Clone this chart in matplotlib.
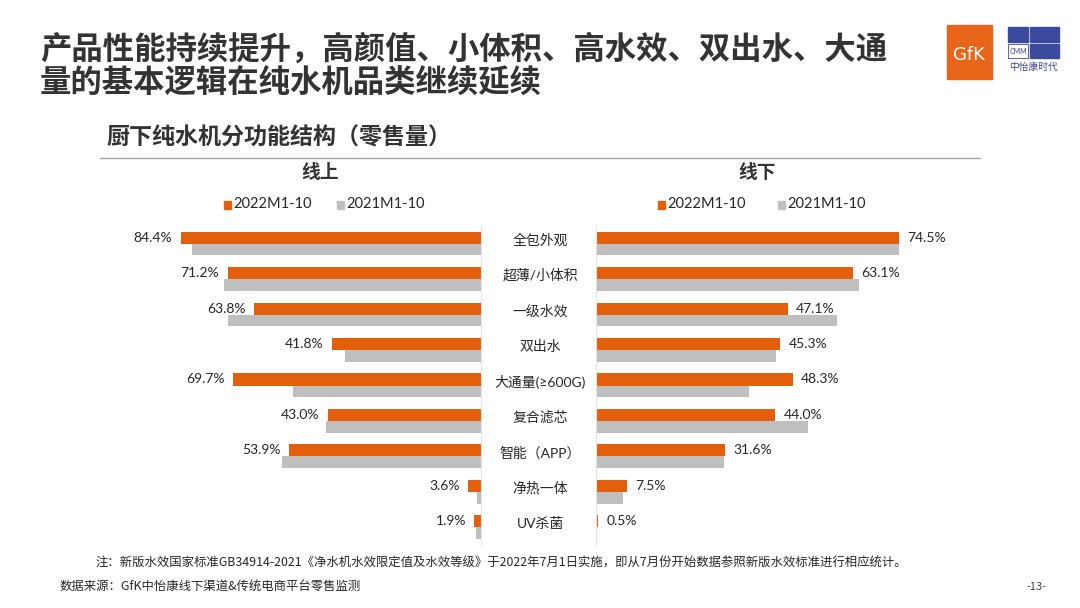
import matplotlib
matplotlib.use("Agg")
import matplotlib.pyplot as plt
from matplotlib.transforms import blended_transform_factory
from matplotlib.patches import Rectangle
from matplotlib.lines import Line2D

plt.rcParams['font.family'] = ['Lato', 'Noto Sans CJK SC', 'DejaVu Sans']

# data (percent of retail volume)
categories = ['全包外观', '超薄/小体积', '一级水效', '双出水', '大通量(≥600G)',
              '复合滤芯', '智能（APP）', '净热一体', 'UV杀菌']
online_2022 = [84.4, 71.2, 63.8, 41.8, 69.7, 43.0, 53.9, 3.6, 1.9]
online_2021 = [81.2, 72.2, 71.1, 38.2, 52.9, 43.6, 55.9, 1.1, 1.4]
offline_2022 = [74.5, 63.1, 47.1, 45.3, 48.3, 44.0, 31.6, 7.5, 0.5]
offline_2021 = [74.5, 64.5, 59.1, 44.2, 37.7, 52.0, 31.4, 6.7, 0.3]
series_names = ['2022M1-10', '2021M1-10']

orange = '#E35F0C'
grey = '#BFBFBF'
dark = '#333333'
blue = '#3B4A9C'
cjk = ['Noto Sans CJK SC', 'DejaVu Sans']

W, H = 1080, 608
fig = plt.figure(figsize=(10.8, 6.08), dpi=100)


def px(x0, y0, x1, y1):
    # pixel box (top-left origin) -> figure fraction rect
    return [x0 / W, 1 - y1 / H, (x1 - x0) / W, (y1 - y0) / H]


def box(x0, y0, x1, y1, **kw):
    fig.patches.append(Rectangle((x0 / W, 1 - y1 / H), (x1 - x0) / W, (y1 - y0) / H,
                                 transform=fig.transFigure, **kw))


ax_l = fig.add_axes(px(125, 226, 481, 545))
ax_r = fig.add_axes(px(596, 226, 1003, 545))

ypos = list(range(len(categories)))
bh = 0.34

for ax, v22, v21, side in [(ax_l, online_2022, online_2021, 'left'),
                           (ax_r, offline_2022, offline_2021, 'right')]:
    ax.barh([y - bh for y in ypos], v22, height=bh, align='edge', color=orange)
    ax.barh(ypos, v21, height=bh - 0.01, align='edge', color=grey)
    ax.set_ylim(8.5, -0.5)
    if side == 'left':
        ax.set_xlim(100, 0)
    else:
        ax.set_xlim(0, 100)
    for s in ax.spines.values():
        s.set_visible(False)
    zero_spine = 'right' if side == 'left' else 'left'
    ax.spines[zero_spine].set_visible(True)
    ax.spines[zero_spine].set_color('#E3E3E3')
    ax.spines[zero_spine].set_linewidth(0.8)
    ax.set_xticks([])
    ax.set_yticks([])
    ax.patch.set_alpha(0)
    for y, v in zip(ypos, v22):
        off = -6 if side == 'left' else 6
        ax.annotate(f'{v:.1f}%', (v, y - bh / 2), xytext=(off, 0),
                    textcoords='offset points', va='center',
                    ha='right' if side == 'left' else 'left',
                    fontsize=10, color='#262626')

# category names in the gap between the two panels
tr = blended_transform_factory(fig.transFigure, ax_l.transData)
for y, c in zip(ypos, categories):
    ax_l.text(540 / W, y - 0.11, c, transform=tr, ha='center', va='center',
              fontsize=10, color='#262626', clip_on=False)

# panel headers and legends
fig.text(320 / W, 1 - 173 / H, '线上', ha='center', va='center', fontsize=13.5,
         weight='bold', color=dark, family=cjk)
fig.text(757 / W, 1 - 173 / H, '线下', ha='center', va='center', fontsize=13.5,
         weight='bold', color=dark, family=cjk)

for lx in [(224, 337), (658, 778)]:
    for x0, name, col in zip(lx, series_names, [orange, grey]):
        box(x0, 201, x0 + 7, 209, color=col)
        fig.text((x0 + 9) / W, 1 - 204 / H, name, va='center', fontsize=10.5,
                 color='#262626')

# titles
fig.text(40 / W, 1 - 50 / H, '产品性能持续提升，高颜值、小体积、高水效、双出水、大通',
         va='center', fontsize=22.6, weight='black', color=dark, family=cjk)
fig.text(40 / W, 1 - 84 / H, '量的基本逻辑在纯水机品类继续延续',
         va='center', fontsize=22.6, weight='black', color=dark, family=cjk)
fig.text(106 / W, 1 - 138 / H, '厨下纯水机分功能结构（零售量）', va='center',
         fontsize=16.6, weight='bold', color=dark, family=cjk)
fig.lines.append(Line2D([100 / W, 980 / W], [1 - 158 / H, 1 - 158 / H],
                        transform=fig.transFigure, color='#A6A6A6', lw=1))

# logos (simplified)
box(947, 25, 992, 79, color='#E8651A')
fig.text(969 / W, 1 - 55 / H, 'GfK', ha='center', va='center', fontsize=13,
         color='white', family=['Liberation Sans Narrow', 'DejaVu Sans'])
box(1008, 27, 1028, 42, color=blue)
box(1030, 27, 1059, 42, color=blue)
box(1030, 44, 1059, 58, color=blue)
box(1008, 44, 1028, 58, fill=False, edgecolor=blue, lw=0.6)
fig.text(1010 / W, 1 - 52 / H, 'CMM', va='center', fontsize=5, color=blue)
fig.text(1033 / W, 1 - 67 / H, '中怡康时代', ha='center', va='center', fontsize=7,
         color=blue, family=cjk)

# footer
fig.text(95 / W, 1 - 563 / H,
         '注：新版水效国家标准GB34914-2021《净水机水效限定值及水效等级》于2022年7月1日实施，'
         '即从7月份开始数据参照新版水效标准进行相应统计。',
         va='center', fontsize=8.9, color='#262626', family=cjk)
fig.text(60 / W, 1 - 587 / H, '数据来源：GfK中怡康线下渠道&传统电商平台零售监测',
         va='center', fontsize=8.9, color='#262626', family=cjk)
fig.text(1046 / W, 1 - 587 / H, '-13-', ha='right', va='center', fontsize=8,
         color='#404040', family=cjk)

fig.savefig('out.png', dpi=100)
